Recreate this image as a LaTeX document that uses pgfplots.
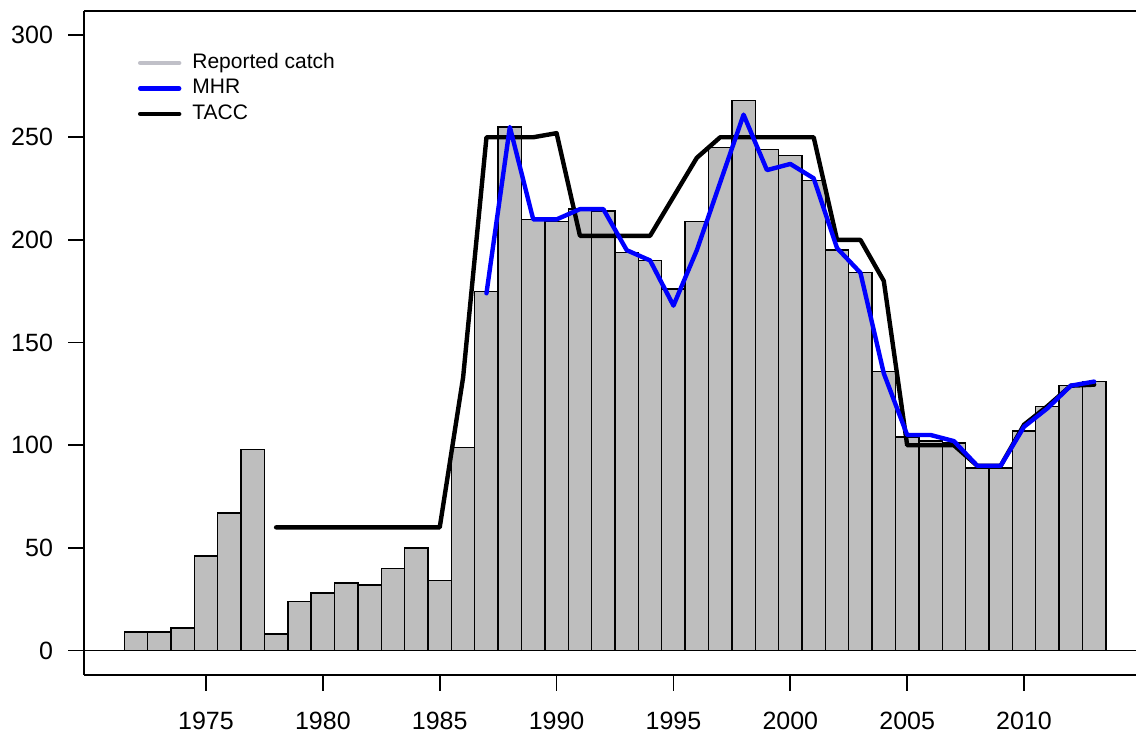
\documentclass[border=0pt]{standalone}
\usepackage{pgfplots}
\pgfplotsset{compat=1.18}
\usepackage{fontspec}
\setmainfont{Liberation Sans}
\definecolor{bargray}{RGB}{190,190,190}
\definecolor{leggray}{RGB}{192,192,200}
\definecolor{mhrblue}{RGB}{0,0,255}
\pgfplotsset{mylegline/.style={legend image code/.code={\draw[##1] (0pt,0pt) -- (19.5pt,0pt);}}}

\pgfplotstableread{
year catch
1972 9
1973 9
1974 11
1975 46
1976 67
1977 98
1978 8
1979 24
1980 28
1981 33
1982 32
1983 40
1984 50
1985 34
1986 99
1987 175
1988 255
1989 210
1990 209
1991 215
1992 214
1993 194
1994 190
1995 176
1996 209
1997 245
1998 268
1999 244
2000 241
2001 229
2002 195
2003 184
2004 136
2005 104
2006 102
2007 101
2008 89
2009 89
2010 107
2011 119
2012 129
2013 131
}\catchtable

\pgfplotstableread{
year mhr
1987 174
1988 255
1989 210
1990 210
1991 215
1992 215
1993 195
1994 190
1995 168
1996 195
1997 228
1998 261
1999 234
2000 237
2001 230
2002 196
2003 184
2004 135
2005 105
2006 105
2007 102
2008 90
2009 90
2010 109
2011 118
2012 129
2013 131
}\mhrtable

\pgfplotstableread{
year tacc
1978 60
1979 60
1980 60
1981 60
1982 60
1983 60
1984 60
1985 60
1986 133
1987 250
1988 250
1989 250
1990 252
1991 202
1992 202
1993 202
1994 202
1995 221
1996 240
1997 250
1998 250
1999 250
2000 250
2001 250
2002 200
2003 200
2004 180
2005 100
2006 100
2007 100
2008 90
2009 90
2010 110
2011 119
2012 129
2013 129.5
}\tacctable

\begin{document}
\begin{tikzpicture}
\begin{axis}[
  at={(0,0)}, anchor=south west,
  scale only axis, width=526pt, height=332pt,
  xmin=1969.78, xmax=2014.79, ymin=-11.9, ymax=311.5,
  axis lines*=left,
  axis line style={-, line width=0.9pt},
  xtick={1975,1980,...,2010}, ytick={0,50,...,300},
  tick align=outside, major tick length=8pt,
  tick style={line width=0.9pt, black},
  /pgf/number format/assume math mode=true,
  /pgf/number format/1000 sep={},
  tick label style={font=\fontsize{12.5}{14}\selectfont},
  xticklabel style={yshift=-7pt},
  yticklabel style={xshift=-4pt},
  legend style={at={(rel axis cs:0,1)}, anchor=north west, xshift=27pt, yshift=-19.6pt,
    draw=none, fill=none, inner sep=0pt, outer sep=0pt,
    font=\fontsize{10.5}{12}\selectfont, row sep=0pt, column sep=5.5pt,
    nodes={inner sep=0pt, text height=9pt, text depth=3.75pt}},
  legend cell align=left,
]
\addplot[ybar, bar width=1, bar shift=0pt, fill=bargray, draw=black, line width=0.7pt, forget plot]
  table[x=year, y=catch] {\catchtable};
\draw[line width=0.9pt] (rel axis cs:0,1) -- (rel axis cs:1,1);
\draw[line width=0.9pt] ({rel axis cs:0,0}|-{axis cs:1975,0}) -- ({rel axis cs:1,0}|-{axis cs:1975,0});
\addplot[black, line width=2.2pt, line join=round, line cap=round, forget plot]
  table[x=year, y=tacc] {\tacctable};
\addplot[mhrblue, line width=2.2pt, line join=round, line cap=round, forget plot]
  table[x=year, y=mhr] {\mhrtable};
\addlegendimage{mylegline, leggray, line width=2.2pt, line cap=round}
\addlegendentry{Reported catch}
\addlegendimage{mylegline, mhrblue, line width=2.2pt, line cap=round}
\addlegendentry{MHR}
\addlegendimage{mylegline, black, line width=2.2pt, line cap=round}
\addlegendentry{TACC}
\end{axis}
\pgfresetboundingbox
\path[use as bounding box] (-42pt,-31.5pt) rectangle (526pt,337.5pt);
\end{tikzpicture}
\end{document}
